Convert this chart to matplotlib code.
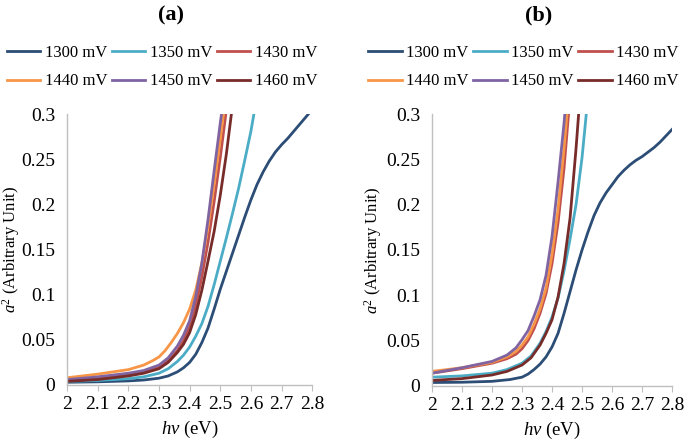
import matplotlib
matplotlib.use("Agg")
import matplotlib.pyplot as plt

plt.rcParams['font.family'] = ['Liberation Serif', 'DejaVu Serif']
plt.rcParams['mathtext.fontset'] = 'custom'
plt.rcParams['mathtext.rm'] = 'Liberation Serif'
plt.rcParams['mathtext.it'] = 'Liberation Serif:italic'

labels = ['1300 mV', '1350 mV', '1430 mV', '1440 mV', '1450 mV', '1460 mV']
colors = ['#2C4D75', '#4BACC6', '#C0504D', '#F79646', '#8064A2', '#772C2A']
x_ticks = [2, 2.1, 2.2, 2.3, 2.4, 2.5, 2.6, 2.7, 2.8]
y_ticks = [0, 0.05, 0.1, 0.15, 0.2, 0.25, 0.3]
y_tick_labels = ['0', '0.05', '0.1', '0.15', '0.2', '0.25', '0.3']

# panel (a)
a_x_1300 = [2.0, 2.1, 2.2, 2.25, 2.3, 2.33, 2.36, 2.38, 2.40, 2.42, 2.44, 2.46, 2.48, 2.50, 2.52, 2.54,
            2.56, 2.58, 2.60, 2.62, 2.64, 2.66, 2.68, 2.70, 2.72, 2.74, 2.76, 2.78, 2.80]
a_y_1300 = [0.003, 0.0035, 0.0045, 0.0055, 0.0075, 0.010, 0.0145, 0.019, 0.025, 0.034, 0.047, 0.063, 0.084,
            0.106, 0.126, 0.146, 0.166, 0.186, 0.205, 0.222, 0.236, 0.248, 0.258, 0.266, 0.273, 0.281,
            0.289, 0.297, 0.305]
a_x_1350 = [2.0, 2.1, 2.2, 2.25, 2.3, 2.33, 2.36, 2.38, 2.40, 2.42, 2.44, 2.46, 2.48, 2.50, 2.52, 2.54,
            2.56, 2.58, 2.60, 2.62]
a_y_1350 = [0.004, 0.005, 0.007, 0.009, 0.013, 0.018, 0.026, 0.033, 0.042, 0.054, 0.068, 0.087, 0.111,
            0.137, 0.163, 0.190, 0.218, 0.249, 0.281, 0.32]
a_x_1430 = [2.0, 2.1, 2.2, 2.25, 2.3, 2.33, 2.36, 2.38, 2.40, 2.42, 2.44, 2.46, 2.48, 2.50, 2.52, 2.53]
a_y_1430 = [0.005, 0.007, 0.011, 0.014, 0.020, 0.027, 0.038, 0.049, 0.064, 0.088, 0.120, 0.158, 0.203,
            0.252, 0.305, 0.33]
a_x_1440 = [2.0, 2.1, 2.2, 2.25, 2.28, 2.3, 2.32, 2.34, 2.36, 2.38, 2.40, 2.42, 2.44, 2.46, 2.48, 2.50, 2.52]
a_y_1440 = [0.008, 0.012, 0.017, 0.022, 0.027, 0.031, 0.038, 0.047, 0.057, 0.069, 0.084, 0.105, 0.135,
            0.175, 0.222, 0.272, 0.325]
a_x_1450 = [2.0, 2.1, 2.2, 2.25, 2.3, 2.33, 2.36, 2.38, 2.40, 2.42, 2.44, 2.46, 2.48, 2.50, 2.52]
a_y_1450 = [0.006, 0.009, 0.013, 0.016, 0.022, 0.030, 0.043, 0.055, 0.071, 0.098, 0.135, 0.183, 0.237,
            0.290, 0.34]
a_x_1460 = [2.0, 2.1, 2.2, 2.25, 2.3, 2.33, 2.36, 2.38, 2.40, 2.42, 2.44, 2.46, 2.48, 2.50, 2.52, 2.54]
a_y_1460 = [0.004, 0.006, 0.010, 0.013, 0.018, 0.025, 0.036, 0.045, 0.058, 0.078, 0.105, 0.137, 0.170,
            0.210, 0.256, 0.31]

# panel (b)
b_x_1300 = [2.0, 2.1, 2.2, 2.26, 2.3, 2.32, 2.34, 2.36, 2.38, 2.40, 2.42, 2.44, 2.46, 2.48, 2.50, 2.52,
            2.54, 2.56, 2.58, 2.60, 2.62, 2.64, 2.66, 2.68, 2.70, 2.72, 2.74, 2.76, 2.78, 2.80]
b_y_1300 = [0.0037, 0.004, 0.005, 0.007, 0.0096, 0.013, 0.018, 0.024, 0.032, 0.043, 0.058, 0.080, 0.104,
            0.128, 0.150, 0.170, 0.188, 0.202, 0.213, 0.222, 0.231, 0.238, 0.244, 0.249, 0.253, 0.258,
            0.263, 0.269, 0.276, 0.283]
b_x_1350 = [2.0, 2.1, 2.2, 2.25, 2.3, 2.33, 2.36, 2.38, 2.40, 2.42, 2.44, 2.46, 2.48, 2.50, 2.52]
b_y_1350 = [0.0096, 0.011, 0.014, 0.018, 0.025, 0.033, 0.047, 0.060, 0.076, 0.097, 0.127, 0.162, 0.200,
            0.252, 0.32]
b_x_1430 = [2.0, 2.1, 2.2, 2.25, 2.28, 2.3, 2.32, 2.34, 2.36, 2.38, 2.40, 2.42, 2.44, 2.46]
b_y_1430 = [0.014, 0.019, 0.025, 0.030, 0.035, 0.041, 0.050, 0.063, 0.080, 0.102, 0.135, 0.180, 0.240, 0.32]
b_x_1440 = [2.0, 2.1, 2.2, 2.25, 2.28, 2.3, 2.32, 2.34, 2.36, 2.38, 2.40, 2.42, 2.44, 2.46]
b_y_1440 = [0.016, 0.020, 0.026, 0.032, 0.038, 0.045, 0.054, 0.068, 0.085, 0.108, 0.145, 0.195, 0.262, 0.34]
b_x_1450 = [2.0, 2.1, 2.2, 2.25, 2.28, 2.3, 2.32, 2.34, 2.36, 2.38, 2.40, 2.42, 2.44, 2.45]
b_y_1450 = [0.014, 0.020, 0.027, 0.034, 0.042, 0.051, 0.061, 0.077, 0.095, 0.122, 0.165, 0.225, 0.290, 0.33]
b_x_1460 = [2.0, 2.1, 2.2, 2.25, 2.3, 2.33, 2.36, 2.38, 2.40, 2.42, 2.44, 2.46, 2.48, 2.50]
b_y_1460 = [0.006, 0.008, 0.012, 0.016, 0.023, 0.031, 0.045, 0.058, 0.073, 0.098, 0.135, 0.185, 0.262, 0.35]

data_a = [(a_x_1300, a_y_1300), (a_x_1350, a_y_1350), (a_x_1430, a_y_1430),
          (a_x_1440, a_y_1440), (a_x_1450, a_y_1450), (a_x_1460, a_y_1460)]
data_b = [(b_x_1300, b_y_1300), (b_x_1350, b_y_1350), (b_x_1430, b_y_1430),
          (b_x_1440, b_y_1440), (b_x_1450, b_y_1450), (b_x_1460, b_y_1460)]


def rysuj_panel(fig, rect, dane, tytul, tytul_x, leg_x, ylab_x):
    ax = fig.add_axes(rect)
    linie = []
    for (xs, ys), kolor, etykieta in zip(dane, colors, labels):
        l, = ax.plot(xs, ys, color=kolor, lw=2.0, label=etykieta, solid_joinstyle='round')
        linie.append(l)
    ax.set_xlim(2, 2.8)
    ax.set_ylim(0, 0.3)
    ax.set_xticks(x_ticks)
    ax.set_xticklabels([f'{t:g}' for t in x_ticks])
    ax.set_yticks(y_ticks)
    ax.set_yticklabels(y_tick_labels)
    for s in ['top', 'right']:
        ax.spines[s].set_visible(False)
    for s in ['left', 'bottom']:
        ax.spines[s].set_color('#BFBFBF')
        ax.spines[s].set_linewidth(1.0)
    ax.tick_params(axis='x', length=4, color='#BFBFBF', labelsize=14, pad=4)
    ax.tick_params(axis='y', length=0, labelsize=14, pad=8.5)
    ax.set_xlabel(r'$hv$ (eV)', fontsize=13.5, labelpad=4)
    ax.set_ylabel(r'$a^2$ (Arbitrary Unit)', fontsize=12)
    ax.yaxis.set_label_coords(ylab_x, 0.5)
    # kolejnosc wierszami: 1300 1350 1430 / 1440 1450 1460
    kolej = [0, 3, 1, 4, 2, 5]
    fig.legend([linie[i] for i in kolej], [labels[i] for i in kolej], ncol=3,
               loc='center', bbox_to_anchor=(leg_x, 0.848), frameon=False,
               fontsize=12, handlelength=2.0, handletextpad=0.25,
               columnspacing=0.3, labelspacing=0.75)
    fig.text(tytul_x, 0.964, tytul, ha='center', va='center', fontsize=16, fontweight='bold')
    return ax


fig = plt.figure(figsize=(6.85, 4.42), dpi=100)
rysuj_panel(fig, [0.0978, 0.129, 0.358, 0.613], data_a, '(a)', 0.249, 0.2365, -0.184)
rysuj_panel(fig, [0.6307, 0.127, 0.3504, 0.615], data_b, '(b)', 0.787, 0.764, -0.2)
fig.savefig('out.png', dpi=100)
